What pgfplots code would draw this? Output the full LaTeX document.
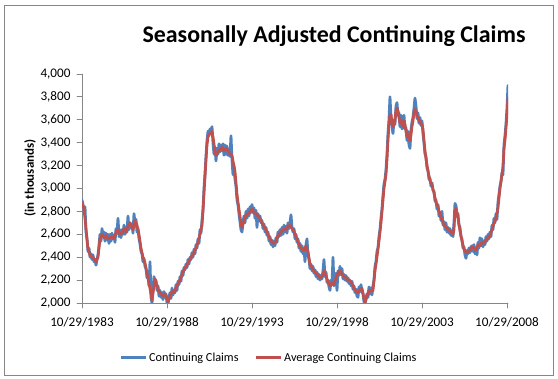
\documentclass[border=0pt]{standalone}
\usepackage{fontspec}
\setmainfont{Carlito}
\usepackage{pgfplots}
\pgfplotsset{compat=1.18}
\usepackage{pgfplotstable}
\definecolor{xlblue}{HTML}{4F81BD}
\definecolor{xlred}{HTML}{C0504D}
\definecolor{xlgray}{HTML}{868686}

% p = position along the time axis (82 = 10/29/1983, 17 units per year), v = claims (thousands)
\pgfplotstableread{
p v
82 2900
83 2860
84 2800
85 2840
86 2620
87 2560
88 2450
89 2480
90 2400
91 2430
92 2380
93 2420
94 2360
95 2380
96 2330
97 2380
98 2420
99 2500
100 2600
101 2540
102 2650
103 2580
104 2620
105 2540
106 2610
107 2550
108 2600
109 2520
110 2600
111 2540
112 2610
113 2560
114 2590
115 2530
116 2650
117 2610
118 2740
119 2580
120 2640
121 2570
122 2640
123 2600
124 2680
125 2600
126 2640
127 2620
128 2760
129 2640
130 2700
131 2660
132 2690
133 2610
134 2780
135 2700
136 2730
137 2620
138 2650
139 2560
140 2520
141 2450
142 2430
143 2360
144 2390
145 2320
146 2300
147 2220
148 2250
149 2150
150 2360
151 2050
152 2000
153 2120
154 2230
155 2180
156 2200
157 2110
158 2150
159 2060
160 2110
161 2050
162 2090
163 2030
164 2100
165 2050
166 2080
167 2000
168 1990
169 2050
170 2090
171 2040
172 2130
173 2070
174 2110
175 2090
176 2160
177 2110
178 2190
179 2160
180 2230
181 2190
182 2280
183 2240
184 2310
185 2290
186 2340
187 2310
188 2380
189 2340
190 2400
191 2380
192 2440
193 2400
194 2470
195 2430
196 2510
197 2480
198 2560
199 2520
200 2640
201 2610
202 2720
203 2820
204 3000
205 3130
206 3280
207 3420
208 3500
209 3470
210 3520
211 3480
212 3540
213 3400
214 3300
215 3360
216 3240
217 3350
218 3300
219 3390
220 3320
221 3380
222 3330
223 3390
224 3290
225 3380
226 3300
227 3370
228 3290
229 3340
230 3280
231 3460
232 3250
233 3120
234 3200
235 3080
236 3020
237 2900
238 2860
239 2780
240 2710
241 2640
242 2620
243 2700
244 2760
245 2700
246 2800
247 2740
248 2820
249 2760
250 2840
251 2790
252 2860
253 2790
254 2830
255 2740
256 2810
257 2660
258 2780
259 2720
260 2760
261 2700
262 2720
263 2650
264 2690
265 2620
266 2660
267 2590
268 2620
269 2540
270 2580
271 2510
272 2550
273 2490
274 2540
275 2500
276 2570
277 2530
278 2620
279 2580
280 2640
281 2590
282 2660
283 2600
284 2680
285 2620
286 2670
287 2610
288 2700
289 2650
290 2700
291 2770
292 2660
293 2620
294 2650
295 2560
296 2600
297 2530
298 2560
299 2480
300 2520
301 2450
302 2500
303 2430
304 2480
305 2360
306 2510
307 2560
308 2420
309 2380
310 2300
311 2340
312 2280
313 2320
314 2260
315 2290
316 2230
317 2270
318 2210
319 2250
320 2200
321 2240
322 2210
323 2280
324 2380
325 2230
326 2270
327 2180
328 2200
329 2140
330 2110
331 2200
332 2160
333 2400
334 2150
335 2200
336 2260
337 2110
338 2280
339 2240
340 2320
341 2250
342 2300
343 2210
344 2250
345 2200
346 2240
347 2190
348 2220
349 2170
350 2200
351 2150
352 2190
353 2120
354 2150
355 2090
356 2120
357 2060
358 2050
359 2140
360 2100
361 2160
362 2100
363 2080
364 2010
365 1990
366 2040
367 2080
368 2050
369 2140
370 2080
371 2130
372 2070
373 2150
374 2200
375 2320
376 2360
377 2450
378 2480
379 2580
380 2640
381 2740
382 2820
383 2940
384 3040
385 3080
386 3160
387 3300
388 3480
389 3600
390 3800
391 3620
392 3540
393 3480
394 3600
395 3560
396 3720
397 3750
398 3640
399 3660
400 3540
401 3640
402 3520
403 3580
404 3640
405 3520
406 3530
407 3420
408 3500
409 3380
410 3350
411 3510
412 3580
413 3620
414 3700
415 3790
416 3720
417 3610
418 3660
419 3570
420 3620
421 3550
422 3590
423 3480
424 3400
425 3300
426 3280
427 3180
428 3160
429 3080
430 3090
431 3020
432 3050
433 2980
434 2980
435 2890
436 2900
437 2820
438 2860
439 2760
440 2790
441 2720
442 2800
443 2680
444 2710
445 2640
446 2700
447 2620
448 2660
449 2610
450 2650
451 2590
452 2630
453 2580
454 2700
455 2870
456 2850
457 2760
458 2780
459 2680
460 2660
461 2580
462 2560
463 2480
464 2490
465 2420
466 2390
467 2460
468 2430
469 2480
470 2440
471 2490
472 2500
473 2450
474 2510
475 2430
476 2480
477 2420
478 2530
479 2480
480 2570
481 2500
482 2560
483 2490
484 2540
485 2510
486 2580
487 2540
488 2600
489 2560
490 2620
491 2580
492 2680
493 2640
494 2740
495 2700
496 2780
497 2730
498 2880
499 2950
500 3020
501 3060
502 3140
503 3120
504 3380
505 3460
506 3560
507 3700
508 3900
}\claims

\pgfplotstableread{
p v
82 2880
84 2820
86 2650
88 2470
90 2420
93 2400
96 2360
98 2400
100 2560
102 2600
104 2570
106 2590
108 2560
110 2570
112 2580
114 2560
116 2620
118 2640
120 2600
122 2610
124 2650
126 2620
128 2670
130 2700
133 2640
135 2720
137 2680
139 2600
141 2480
143 2400
145 2350
147 2260
149 2170
151 2080
152 2020
154 2150
155 2210
157 2150
159 2100
161 2080
163 2060
165 2080
167 2040
168 2010
170 2060
172 2100
174 2090
176 2130
178 2170
180 2200
182 2250
184 2290
186 2320
188 2350
190 2380
192 2410
194 2440
196 2480
198 2530
200 2600
202 2680
203 2800
204 2960
205 3100
206 3250
207 3380
208 3450
210 3480
212 3500
213 3450
215 3330
216 3290
218 3320
220 3340
222 3360
224 3330
226 3350
228 3330
230 3300
232 3290
233 3240
235 3150
236 3050
237 2950
238 2880
240 2760
241 2690
242 2660
244 2720
246 2770
248 2780
250 2800
252 2820
254 2790
256 2780
258 2760
260 2740
262 2700
264 2670
266 2640
268 2600
270 2560
272 2530
274 2520
276 2540
278 2590
280 2610
282 2630
284 2650
286 2640
288 2670
290 2680
292 2650
294 2630
296 2580
298 2540
300 2490
302 2470
304 2460
306 2500
308 2450
310 2340
312 2310
314 2280
316 2260
318 2240
320 2220
322 2230
324 2280
326 2240
328 2180
330 2150
332 2180
334 2160
336 2220
338 2260
340 2280
342 2250
344 2230
346 2220
348 2200
350 2190
352 2170
354 2130
356 2100
358 2090
360 2120
362 2130
364 2040
365 2000
367 2060
369 2110
371 2100
373 2110
375 2280
377 2400
379 2540
381 2700
383 2900
384 3000
385 3060
386 3120
387 3250
388 3420
389 3560
390 3640
391 3650
392 3580
393 3540
394 3560
395 3600
396 3680
397 3700
398 3680
399 3620
400 3570
401 3600
402 3560
403 3540
404 3590
405 3560
406 3500
407 3450
408 3480
409 3430
410 3420
411 3470
412 3540
413 3590
414 3660
415 3690
416 3680
417 3640
418 3620
419 3590
420 3590
421 3570
422 3560
423 3520
424 3420
425 3330
426 3260
428 3150
430 3070
432 3030
434 2960
436 2880
438 2840
440 2770
442 2730
444 2680
446 2670
448 2640
450 2630
452 2610
453 2600
454 2640
455 2800
456 2830
457 2790
458 2740
460 2630
462 2540
464 2470
466 2440
468 2450
470 2460
472 2490
474 2480
476 2460
478 2510
480 2500
482 2530
484 2520
486 2550
488 2570
490 2590
492 2640
494 2700
496 2740
498 2830
500 3000
502 3120
503 3200
504 3350
505 3420
506 3530
507 3640
508 3790
}\average

\begin{document}
\begin{tikzpicture}
\path[use as bounding box] (0bp,0bp) rectangle (558bp,379bp);
\draw[xlgray, line width=0.9bp] (4bp,3.5bp) rectangle (553.5bp,374bp);
\node[font=\fontsize{24}{28}\selectfont\bfseries] at (334bp,343bp) {Seasonally Adjusted Continuing Claims};
\node[rotate=90, font=\fontsize{13}{15}\selectfont\bfseries] at (30bp,201bp) {(in thousands)};
\begin{axis}[
  at={(82bp,76bp)}, anchor=south west,
  scale only axis, width=426bp, height=229bp,
  xmin=1983.83, xmax=2008.89, ymin=2000, ymax=4000,
  axis x line*=bottom, axis y line*=left,
  axis line style={xlgray, line width=0.9bp},
  every tick/.style={xlgray, line width=0.9bp},
  tick align=outside, major tick length=5bp,
  xtick={1983.83,1988.83,1993.83,1998.83,2003.83,2008.83},
  xticklabels={10/29/1983,10/29/1988,10/29/1993,10/29/1998,10/29/2003,10/29/2008},
  ytick={2000,2200,...,4000},
  scaled y ticks=false,
  /pgf/number format/1000 sep={,},
  /pgf/number format/assume math mode=true,
  tick label style={font=\fontsize{13.2}{15}\selectfont, black},
  xticklabel style={yshift=-6bp},
  yticklabel style={xshift=-3bp},
  legend style={at={(0.439,-0.238)}, anchor=center, draw=none, fill=none,
    legend columns=2, font=\fontsize{12.3}{14}\selectfont,
    /tikz/every even column/.append style={column sep=14bp},
    inner sep=0pt},
  legend image code/.code={\draw[#1, line width=2.6bp] (0bp,0bp) -- (25bp,0bp);},
  line join=round, line cap=round,
]
\addplot[xlblue, line width=2.8bp, mark=none] table[x expr={1983.83+(\thisrow{p}-82)/17}, y=v] {\claims};
\addlegendentry{Continuing Claims}
\addplot[xlred, line width=2.7bp, mark=none] table[x expr={1983.83+(\thisrow{p}-82)/17}, y=v] {\average};
\addlegendentry{Average Continuing Claims}
\end{axis}
\end{tikzpicture}
\end{document}
